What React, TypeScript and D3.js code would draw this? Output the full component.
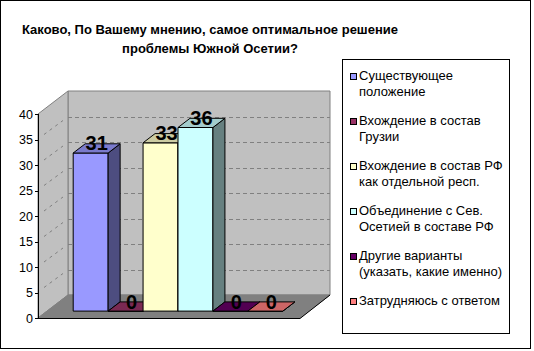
import * as d3 from 'd3';

const seriesNames = [
  ['Существующее', 'положение'],
  ['Вхождение в состав', 'Грузии'],
  ['Вхождение в состав РФ', 'как отдельной респ.'],
  ['Объединение с Сев.', 'Осетией в составе РФ'],
  ['Другие варианты', '(указать, какие именно)'],
  ['Затрудняюсь с ответом'],
];
const values = [31, 0, 33, 36, 0, 0];
const colors = ['#9999FF', '#993366', '#FFFFCC', '#CCFFFF', '#660066', '#FF8080'];
const yTicks = [0, 5, 10, 15, 20, 25, 30, 35, 40];
const titleLines = ['Каково, По Вашему мнению, самое оптимальное решение', 'проблемы Южной Осетии?'];

const W = 534;
const H = 351;
const font = 'Arial, "Liberation Sans", sans-serif';

// 3d box: front plane + depth offset
const plot = { left: 38, right: 300, bottom: 318, top: 114 };
const depth = { dx: 30, dy: 23 };
const barZ = [0.3, 0.7];

const shade = (c: string, k: number) => {
  const rgb = d3.rgb(c);
  return d3.rgb(rgb.r * k, rgb.g * k, rgb.b * k).formatHex();
};

function App() {
  const x = d3
    .scaleBand<number>()
    .domain(d3.range(values.length))
    .range([plot.left, plot.right])
    .paddingInner(0)
    .paddingOuter(0.75);
  const y = d3.scaleLinear().domain([0, 40]).range([plot.bottom, plot.top]);
  const z = d3.scaleLinear().domain([0, 1]).range([0, 1]);

  const proj = (px: number, py: number, pz: number): [number, number] => [
    px + z(pz) * depth.dx,
    py - z(pz) * depth.dy,
  ];
  const poly = (pts: [number, number][]) => pts.map((p) => p.join(',')).join(' ');

  const y0 = y(0);
  const y40 = y(40);
  const backWall = poly([proj(plot.left, y40, 1), proj(plot.right, y40, 1), proj(plot.right, y0, 1), proj(plot.left, y0, 1)]);
  const leftWall = poly([proj(plot.left, y0, 0), proj(plot.left, y40, 0), proj(plot.left, y40, 1), proj(plot.left, y0, 1)]);
  const floor = poly([proj(plot.left, y0, 0), proj(plot.right, y0, 0), proj(plot.right, y0, 1), proj(plot.left, y0, 1)]);

  return (
    <div style={{ position: 'fixed', left: 0, top: 0 }}>
      <svg width={W} height={H} style={{ display: 'block' }} fontFamily={font}>
        <rect x={0} y={0} width={W} height={H} fill="#fff" />
        <rect x={0.5} y={0.5} width={530} height={348} fill="none" stroke="#000" />

        {titleLines.map((t, i) => (
          <text key={i} x={210} y={34 + i * 19} textAnchor="middle" fontSize="13" fontWeight="bold" fill="#000">
            {t}
          </text>
        ))}

        {/* walls and floor */}
        <polygon points={backWall} fill="#c0c0c0" stroke="#808080" />
        <polygon points={leftWall} fill="#c0c0c0" stroke="#808080" />
        <polygon points={floor} fill="#808080" stroke="#808080" />

        {yTicks.slice(1, -1).map((t) => {
          const [bx0, by] = proj(plot.left, y(t), 1);
          const [bx1] = proj(plot.right, y(t), 1);
          const [fx, fy] = proj(plot.left, y(t), 0);
          return (
            <g key={t}>
              <line x1={bx0} x2={bx1} y1={Math.round(by) + 0.5} y2={Math.round(by) + 0.5} stroke="#808080" strokeDasharray="4 3" />
              <line x1={fx + 6} y1={fy - 5} x2={bx0 - 5} y2={by + 4} stroke="#808080" strokeDasharray="3 4" />
            </g>
          );
        })}

        {/* front edges */}
        <line x1={plot.left + 0.5} x2={plot.left + 0.5} y1={y40} y2={y0 + 0.5} stroke="#000" />
        <line x1={plot.left} x2={plot.right} y1={y0 + 0.5} y2={y0 + 0.5} stroke="#000" />
        <line x1={plot.right} y1={y0 + 0.5} x2={proj(plot.right, y0, 1)[0]} y2={proj(plot.right, y0, 1)[1]} stroke="#000" />
        {yTicks.map((t) => (
          <g key={t}>
            <line x1={plot.left - 3} x2={plot.left} y1={Math.round(y(t)) + 0.5} y2={Math.round(y(t)) + 0.5} stroke="#000" />
            <text x={plot.left - 5} y={y(t) + 4.5} textAnchor="end" fontSize="12.5" fill="#000">
              {t}
            </text>
          </g>
        ))}

        {/* bars */}
        {values.map((v, i) => {
          const xl = x(i)!;
          const xr = xl + x.bandwidth();
          const yt = y(v);
          const front = poly([proj(xl, yt, barZ[0]), proj(xr, yt, barZ[0]), proj(xr, y0, barZ[0]), proj(xl, y0, barZ[0])]);
          const top = poly([proj(xl, yt, barZ[0]), proj(xr, yt, barZ[0]), proj(xr, yt, barZ[1]), proj(xl, yt, barZ[1])]);
          const side = poly([proj(xr, yt, barZ[0]), proj(xr, yt, barZ[1]), proj(xr, y0, barZ[1]), proj(xr, y0, barZ[0])]);
          return (
            <g key={i} stroke="#000" strokeLinejoin="round">
              <polygon points={front} fill={colors[i]} />
              <polygon points={side} fill={shade(colors[i], 0.5)} />
              <polygon points={top} fill={shade(colors[i], 0.8)} />
            </g>
          );
        })}

        {values.map((v, i) => {
          const [cx, cy] = proj(x(i)! + x.bandwidth() / 2, y(v), (barZ[0] + barZ[1]) / 2);
          return (
            <text key={i} x={cx} y={cy + 2} textAnchor="middle" fontSize="20" fontWeight="bold" fill="#000">
              {v}
            </text>
          );
        })}

        {/* legend */}
        <rect x={342.5} y={59.5} width={167} height={274} fill="#fff" stroke="#000" />
        {seriesNames.map((lines, i) => {
          const base = 80 + i * 45;
          return (
            <g key={i}>
              <rect x={350.5} y={base - 6.5} width={6} height={6} fill={colors[i]} stroke="#000" />
              {lines.map((l, j) => (
                <text key={j} x={359} y={base + j * 15.5} fontSize="13" fill="#000">
                  {l}
                </text>
              ))}
            </g>
          );
        })}
      </svg>
    </div>
  );
}

export default App;
